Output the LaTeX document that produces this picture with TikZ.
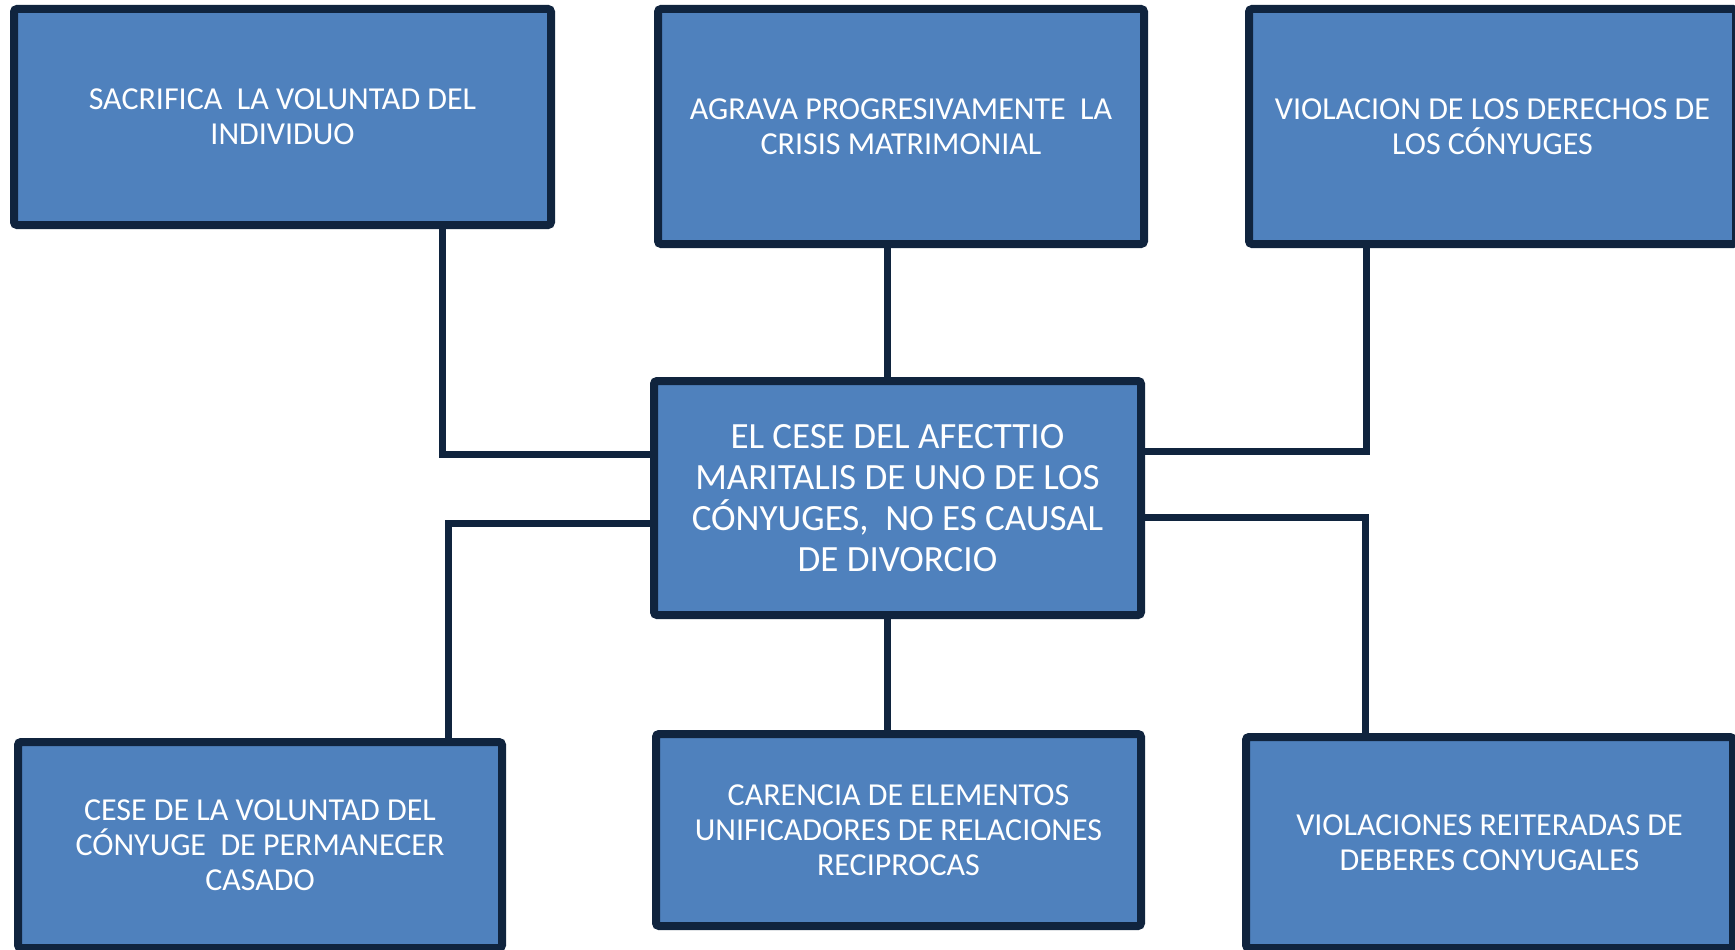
\documentclass[tikz,border=0pt]{standalone}
\usepackage{fontspec}
\setmainfont{Carlito}
\usepackage{tikz}
\usetikzlibrary{positioning}
\definecolor{boxfill}{HTML}{4F81BD}
\definecolor{boxline}{HTML}{10243E}
\tikzset{
	causa/.style = {rectangle, draw=boxline, fill=boxfill, line width=8pt, rounded corners=3pt, text=white, align=center, inner sep=0pt, font=\fontsize{32}{35}\selectfont},
	nexo/.style = {draw=boxline, line width=7pt}
}
\begin{document}
\begin{tikzpicture}[x=1pt, y=-1pt]
			\useasboundingbox (0,0) rectangle (1735,950);
			\begin{scope}[every node/.style={causa}]
				\node[minimum width=537pt, minimum height=216pt] (sacrifica) at (282.5,117) {SACRIFICA~ LA VOLUNTAD DEL\\INDIVIDUO};
				\node[minimum width=486pt, minimum height=235pt] (agrava) at (901,126.5) {AGRAVA PROGRESIVAMENTE~ LA\\CRISIS MATRIMONIAL};
				\node[minimum width=487pt, minimum height=235pt] (violacion) at (1492.5,126.5) {VIOLACION DE LOS DERECHOS DE\\LOS CÓNYUGES};
				\node[minimum width=487pt, minimum height=234pt, font=\fontsize{37}{41}\selectfont] (cese) at (897.5,498) {EL CESE DEL AFECTTIO\\MARITALIS DE UNO DE LOS\\CÓNYUGES,~ NO ES CAUSAL\\DE DIVORCIO};
				\node[minimum width=484pt, minimum height=206pt] (voluntad) at (260,845) {CESE DE LA VOLUNTAD DEL\\CÓNYUGE~ DE PERMANECER\\CASADO};
				\node[minimum width=485pt, minimum height=192pt] (carencia) at (898.5,830) {CARENCIA DE ELEMENTOS\\UNIFICADORES DE RELACIONES\\RECIPROCAS};
				\node[minimum width=487pt, minimum height=211pt] (deberes) at (1489.5,842.5) {VIOLACIONES REITERADAS DE\\DEBERES CONYUGALES};
			\end{scope}
			
			\coordinate (k1) at (442,454);
			\coordinate (k2) at (887,0);
			\coordinate (k3) at (1366,451);
			\coordinate (k4) at (448,523);
			\coordinate (k5) at (1365,517);
			
			\draw[nexo] (sacrifica.south -| k1) |- (cese.west |- k1)
			(agrava.south -| k2) -- (cese.north -| k2)
			(violacion.south -| k3) |- (cese.east |- k3)
			(cese.west |- k4) -| (voluntad.north -| k4)
			(cese.south -| k2) -- (carencia.north -| k2)
			(cese.east |- k5) -| (deberes.north -| k5);
		\end{tikzpicture}
\end{document}
